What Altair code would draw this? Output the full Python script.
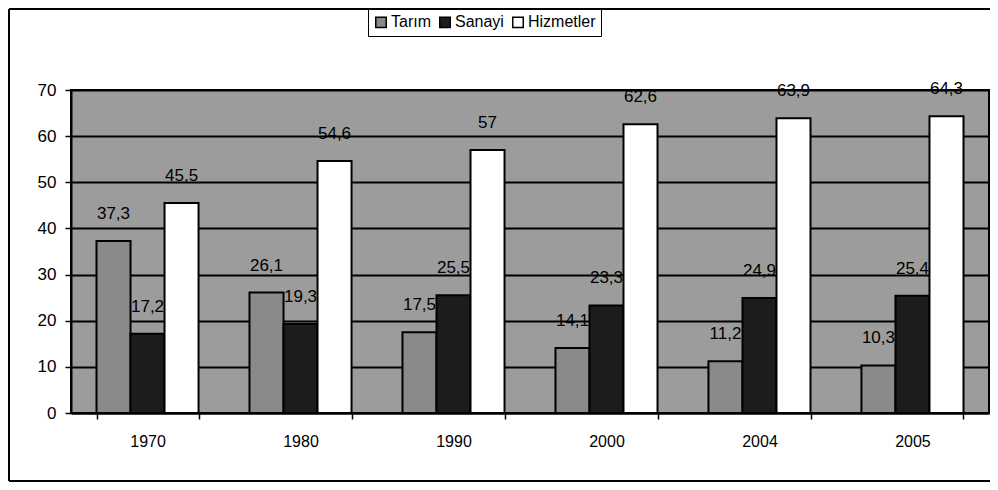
import altair as alt
import pandas as pd

years = ["1970", "1980", "1990", "2000", "2004", "2005"]
series = ["Tarım", "Sanayi", "Hizmetler"]
tarim = [37.3, 26.1, 17.5, 14.1, 11.2, 10.3]
sanayi = [17.2, 19.3, 25.5, 23.3, 24.9, 25.4]
hizmetler = [45.5, 54.6, 57, 62.6, 63.9, 64.3]
y_ticks = [0, 10, 20, 30, 40, 50, 60, 70]
colors = ["#8a8a8a", "#1c1c1c", "#ffffff"]

rows = []
for i, yr in enumerate(years):
    for s, vals in zip(series, [tarim, sanayi, hizmetler]):
        rows.append({"year": yr, "series": s, "value": vals[i]})
df = pd.DataFrame(rows)

FONT = "Arial, Liberation Sans, sans-serif"
W, H = 918, 323

x = alt.X("year:N", sort=years, title=None,
          scale=alt.Scale(paddingInner=0.333, paddingOuter=0.1667),
          axis=alt.Axis(labelAngle=0, tickBand="extent", labelFontSize=16,
                        labelFont=FONT, labelColor="black", labelPadding=14,
                        domainColor="black", domainWidth=2, tickColor="black",
                        tickWidth=1.5, tickSize=6, grid=False))
y = alt.Y("value:Q", title=None,
          scale=alt.Scale(domain=[0, 70], nice=False),
          axis=alt.Axis(values=y_ticks, labelFontSize=17, labelFont=FONT,
                        labelColor="black", labelPadding=9, domainColor="black",
                        domainWidth=2, tickColor="black", tickWidth=1.5,
                        tickSize=6, gridColor="black", gridWidth=2,
                        gridOpacity=1))
xo = alt.XOffset("series:N", sort=series,
                 scale=alt.Scale(paddingInner=0, paddingOuter=0))
color = alt.Color("series:N", sort=series,
                  scale=alt.Scale(domain=series, range=colors),
                  legend=alt.Legend(title=None, orient="none", direction="horizontal",
                                    legendX=297, legendY=-81,
                                    symbolType="square", symbolSize=110,
                                    symbolStrokeColor="black", symbolStrokeWidth=1.5,
                                    symbolOpacity=1,
                                    labelFontSize=16, labelFont=FONT, labelColor="black",
                                    labelOffset=2, columnPadding=5,
                                    strokeColor="black",
                                    fillColor="white", padding=5))

bars = alt.Chart(df).mark_bar(stroke="black", strokeWidth=2, opacity=1).encode(
    x=x, y=y, xOffset=xo, color=color)

labels = alt.Chart(df).transform_calculate(
    lbl="replace(format(datum.value, '~g'), '.', ',')"
).mark_text(baseline="bottom", dy=-18, fontSize=17, font=FONT, color="black").encode(
    x=alt.X("year:N", sort=years), y=alt.Y("value:Q"),
    xOffset=alt.XOffset("series:N", sort=series), text="lbl:N")

frame_left = alt.Chart(df).mark_rule(color="black", strokeWidth=1.5).encode(
    x=alt.value(-62), y=alt.value(-81), y2=alt.value(H + 68))
frame_top = alt.Chart(df).mark_rule(color="black", strokeWidth=1.5).encode(
    x=alt.value(-62), x2=alt.value(W + 1), y=alt.value(-81))
frame_bottom = alt.Chart(df).mark_rule(color="black", strokeWidth=1.5).encode(
    x=alt.value(-62), x2=alt.value(W + 1), y=alt.value(H + 68))

chart = alt.layer(bars, labels, frame_left, frame_top, frame_bottom).properties(
    width=W, height=H,
    autosize=alt.AutoSizeParams(type="none"),
    padding={"left": 63, "top": 82, "right": 1, "bottom": 69},
    background="white",
).configure_view(fill="#9c9c9c", stroke="black", strokeWidth=2)

chart.save("out.html", embed_options={"renderer": "svg", "actions": False})
